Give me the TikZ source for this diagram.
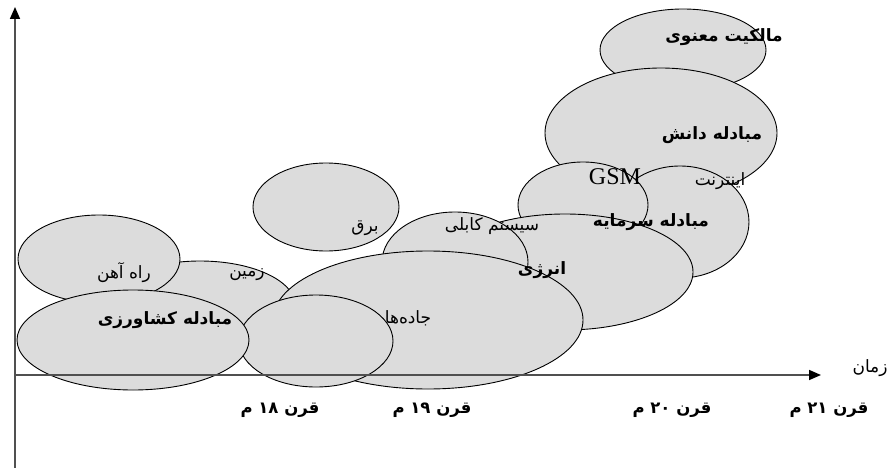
\documentclass[tikz,border=0pt]{standalone}
\usepackage{fontspec}
\usetikzlibrary{arrows.meta}
\TeXXeTstate=1
\newfontfamily\fa[Script=Arabic]{DejaVu Sans}
\newfontfamily\latserif{Liberation Serif}
\definecolor{blobgray}{RGB}{220,220,220}
\definecolor{axisgray}{RGB}{80,80,80}
\begin{document}
\begin{tikzpicture}[x=1pt,y=-1pt,
  blob/.style={draw=black,fill=blobgray,line width=0.9pt},
  axisline/.style={draw=axisgray,line width=1.6pt,-{Triangle[length=12pt,width=10pt,color=black]}},
  boldlbl/.style={inner sep=0pt,font=\fa\bfseries\fontsize{17}{19}\selectfont},
  reglbl/.style={inner sep=0pt,font=\fa\fontsize{17}{19}\selectfont},
  centlbl/.style={inner sep=0pt,font=\fa\bfseries\fontsize{16.5}{18}\selectfont}]
\useasboundingbox (0,0) rectangle (888,468);
% ellipses, bottom to top
\draw[blob] (683,50) ellipse [x radius=83, y radius=41];
\draw[blob] (661,133) ellipse [x radius=116, y radius=65];
\draw[blob] (680,222) ellipse [x radius=69, y radius=56];
\draw[blob] (583,205) ellipse [x radius=65, y radius=43];
\draw[blob] (565,272) ellipse [x radius=128, y radius=58];
\draw[blob] (455,262) ellipse [x radius=73, y radius=50];
\draw[blob] (200,305) ellipse [x radius=95, y radius=44];
\draw[blob] (428,320) ellipse [x radius=155, y radius=69];
\draw[blob] (99,259) ellipse [x radius=81, y radius=44];
\draw[blob] (316,341) ellipse [x radius=77, y radius=46];
\draw[blob] (133,340) ellipse [x radius=116, y radius=50];
\draw[blob] (326,207) ellipse [x radius=73, y radius=44];
% axes
\coordinate (origin) at (15,375);
\coordinate (ybot) at (15,468);
\coordinate (ytop) at (15,7);
\coordinate (xend) at (821,375);
\draw[axisgray,line width=1.6pt] (origin) -- (ybot);
\draw[axisline] (origin) -- (ytop);
\draw[axisline] (origin) -- (xend);
% labels
\node[boldlbl] (malk) at (724,37) {\beginR مالکیت معنوی\endR};
\node[boldlbl] (danesh) at (712,135) {\beginR مبادله دانش\endR};
\node[inner sep=0pt,font=\latserif\fontsize{24}{26}\selectfont] (gsm) at (615,177) {GSM};
\node[reglbl] (internet) at (720,181) {\beginR اینترنت\endR};
\node[boldlbl] (sarmaye) at (651,222) {\beginR مبادله سرمایه\endR};
\node[boldlbl] (energy) at (542,270) {\beginR انرژی\endR};
\node[reglbl] (kabli) at (492,226) {\beginR سیستم کابلی\endR};
\node[reglbl] (bargh) at (365,228) {\beginR برق\endR};
\node[reglbl] (jadde) at (408,318) {\beginR جاده‌ها\endR};
\node[reglbl] (zamin) at (247,275) {\beginR زمین\endR};
\node[reglbl] (rahahan) at (124,273) {\beginR راه آهن\endR};
\node[boldlbl] (keshavarzi) at (165,320) {\beginR مبادله کشاورزی\endR};
\node[reglbl] (zaman) at (870,368) {\beginR زمان\endR};
\node[centlbl] (c18) at (280,410) {\beginR قرن \beginL۱۸\endL{} م\endR};
\node[centlbl] (c19) at (432,410) {\beginR قرن \beginL۱۹\endL{} م\endR};
\node[centlbl] (c20) at (672,410) {\beginR قرن \beginL۲۰\endL{} م\endR};
\node[centlbl] (c21) at (829,410) {\beginR قرن \beginL۲۱\endL{} م\endR};
\end{tikzpicture}
\end{document}
